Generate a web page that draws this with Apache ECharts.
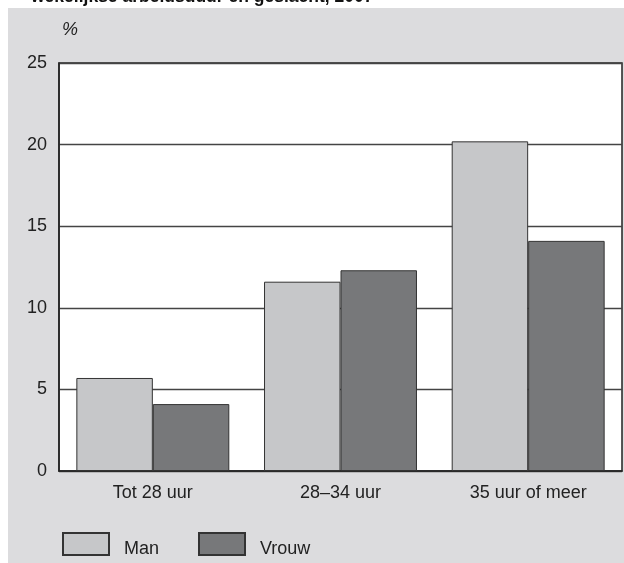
<!DOCTYPE html>
<html><head><meta charset="utf-8">
<style>html,body{margin:0;padding:0;background:#fff}#c{width:624px;height:563px}</style>
<script src="https://cdn.jsdelivr.net/npm/echarts@6/dist/echarts.min.js"></script>
</head><body><div id="c"></div>
<script>
const categories = ['Tot 28 uur', '28–34 uur', '35 uur of meer'];
const seriesNames = ['Man', 'Vrouw'];
const manValues = [5.7, 11.6, 20.2];
const vrouwValues = [4.1, 12.3, 14.1];
const yTicks = [0, 5, 10, 15, 20, 25];
const titleText = 'wekelijkse arbeidsduur en geslacht, 2007';
const unitText = '%';

const chart = echarts.init(document.getElementById('c'), null, {renderer: 'canvas'});
const FONT = 'Liberation Sans, Arial, sans-serif';
const legendText = {fontFamily: FONT, fontSize: 18, color: '#222',
  rich: {a: {fontFamily: FONT, fontSize: 18, color: '#222', padding: [10, 0, 0, 10]}}};
chart.setOption({
  animation: false,
  backgroundColor: '#ffffff',
  graphic: [
    {type: 'rect', shape: {x: 8, y: 8, width: 620, height: 560}, style: {fill: '#dcdcde'}, z: -10},
    {type: 'text', left: 31, top: -12, style: {text: titleText, font: 'bold 17.5px ' + FONT, fill: '#111'}, z: 10},
    {type: 'text', left: 62, top: 21, style: {text: unitText, font: 'italic 18px ' + FONT, fill: '#222'}}
  ],
  grid: {left: 59, right: 2, top: 63, bottom: 92, show: true, backgroundColor: '#ffffff', borderColor: '#222', borderWidth: 1.5},
  legend: [
    {data: [seriesNames[0]], left: 57, top: 527, itemWidth: 46, itemHeight: 22, itemGap: 0, icon: 'rect',
     formatter: n => '{a|' + n + '}', textStyle: legendText},
    {data: [seriesNames[1]], left: 193, top: 527, itemWidth: 46, itemHeight: 22, itemGap: 0, icon: 'rect',
     formatter: n => '{a|' + n + '}', textStyle: legendText}
  ],
  xAxis: {
    type: 'category', data: categories,
    axisLine: {lineStyle: {color: '#222', width: 1.5}},
    axisTick: {show: false},
    axisLabel: {fontFamily: FONT, fontSize: 18, color: '#222', margin: 13}
  },
  yAxis: {
    type: 'value', min: yTicks[0], max: yTicks[yTicks.length - 1], interval: 5,
    axisLine: {show: true, lineStyle: {color: '#222', width: 1.5}},
    axisTick: {show: false},
    axisLabel: {fontFamily: FONT, fontSize: 18, color: '#222', margin: 12},
    splitLine: {lineStyle: {color: '#444', width: 1.3}}
  },
  series: [
    {name: seriesNames[0], type: 'bar', data: manValues, barGap: '0%', barCategoryGap: '18.5%',
     itemStyle: {color: '#c6c7c9', borderColor: '#333', borderWidth: 1}},
    {name: seriesNames[1], type: 'bar', data: vrouwValues, barGap: '0%', barCategoryGap: '18.5%',
     itemStyle: {color: '#77787a', borderColor: '#333', borderWidth: 1}}
  ]
});
</script></body></html>
